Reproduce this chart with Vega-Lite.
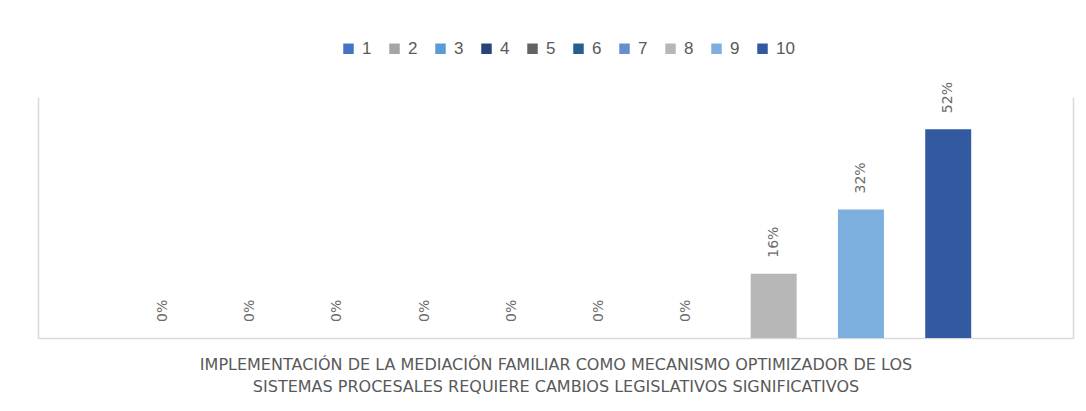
{
  "$schema": "https://vega.github.io/schema/vega-lite/v6.json",
  "width": 1035,
  "height": 241,
  "autosize": {"type": "none"},
  "padding": {"left": 38, "top": 97, "right": 13, "bottom": 73},
  "background": "white",
  "data": {"values": [
    {"serie": 1, "valor": 0},
    {"serie": 2, "valor": 0},
    {"serie": 3, "valor": 0},
    {"serie": 4, "valor": 0},
    {"serie": 5, "valor": 0},
    {"serie": 6, "valor": 0},
    {"serie": 7, "valor": 0},
    {"serie": 8, "valor": 0.16},
    {"serie": 9, "valor": 0.32},
    {"serie": 10, "valor": 0.52}
  ]},
  "encoding": {
    "x": {
      "field": "serie", "type": "ordinal",
      "scale": {"paddingInner": 0, "paddingOuter": 0.93},
      "axis": {
        "labels": false, "ticks": false, "domainColor": "#d9d9d9", "domainWidth": 1.5,
        "title": ["IMPLEMENTACIÓN DE LA MEDIACIÓN FAMILIAR COMO MECANISMO OPTIMIZADOR DE LOS", "SISTEMAS PROCESALES REQUIERE CAMBIOS LEGISLATIVOS SIGNIFICATIVOS"],
        "titleFont": "DejaVu Sans", "titleFontSize": 16, "titleFontWeight": "normal",
        "titleColor": "#595959", "titlePadding": 18, "titleLineHeight": 22
      }
    },
    "y": {
      "field": "valor", "type": "quantitative",
      "scale": {"domain": [0, 0.6]}
    }
  },
  "layer": [
    {
      "mark": {"type": "bar", "width": {"band": 0.527}},
      "encoding": {
        "y": {
          "field": "valor", "type": "quantitative",
          "scale": {"domain": [0, 0.6]},
          "axis": {"orient": "left", "labels": false, "ticks": false, "grid": false, "title": null, "domainColor": "#d9d9d9", "domainWidth": 1.5}
        },
        "color": {
          "field": "serie", "type": "ordinal",
          "scale": {"domain": [1,2,3,4,5,6,7,8,9,10], "range": ["#4472C4", "#A5A5A5", "#5B9BD5", "#264478", "#636363", "#255E91", "#698ED0", "#B7B7B7", "#7CAFDD", "#335AA1"]},
          "legend": {
            "orient": "none", "legendX": 302, "legendY": -57, "direction": "horizontal", "title": null,
            "symbolType": "square", "symbolSize": 110, "symbolStrokeWidth": 0,
            "labelFont": "Liberation Sans", "labelFontSize": 17, "labelColor": "#595959",
            "columnPadding": 14, "labelOffset": 5
          }
        }
      }
    },
    {
      "mark": {"type": "text", "angle": 270, "align": "left", "baseline": "middle", "dx": 16, "font": "DejaVu Sans", "fontSize": 14, "color": "#6b6b6b"},
      "encoding": {
        "y": {
          "field": "valor", "type": "quantitative",
          "scale": {"domain": [0, 0.6]},
          "axis": {"orient": "right", "labels": false, "ticks": false, "grid": false, "title": null, "domainColor": "#d9d9d9", "domainWidth": 1.5}
        },
        "text": {"field": "valor", "type": "quantitative", "format": ".0%"}
      }
    }
  ],
  "resolve": {"axis": {"y": "independent"}},
  "config": {"view": {"stroke": null}}
}
